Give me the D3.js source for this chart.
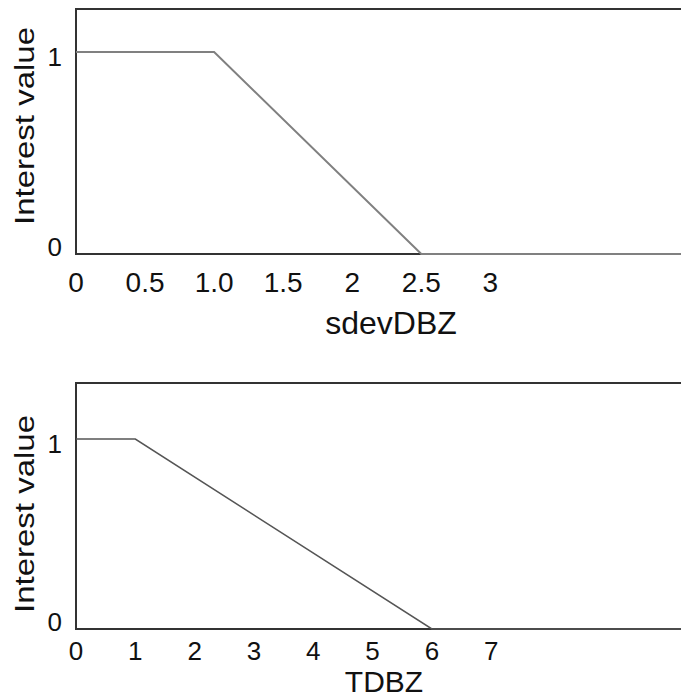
<!DOCTYPE html>
<html>
<head>
<meta charset="utf-8">
<script src="https://cdn.jsdelivr.net/npm/d3@7"></script>
<style>
  html, body { margin: 0; padding: 0; background: #fff; }
  svg { display: block; font-family: Arial, "Liberation Sans", sans-serif; }
</style>
</head>
<body>
<svg id="chart" width="681" height="700"></svg>
<script>
// Membership (interest) functions for two radar fields
const sdevX = [0, 1.0, 2.5, 4.38];
const sdevY = [1, 1, 0, 0];
const sdevTickValues = [0, 0.5, 1.0, 1.5, 2, 2.5, 3];
const sdevTickLabels = ["0", "0.5", "1.0", "1.5", "2", "2.5", "3"];

const tdbzX = [0, 1, 6, 10.2];
const tdbzY = [1, 1, 0, 0];
const tdbzTickValues = [0, 1, 2, 3, 4, 5, 6, 7];
const tdbzTickLabels = ["0", "1", "2", "3", "4", "5", "6", "7"];

const yTickValues = [0, 1];
const yTickLabels = ["0", "1"];

const svg = d3.select("#chart");

function panel(cfg) {
  const x = d3.scaleLinear().domain(cfg.xDomain).range([76, 681]);
  const y = d3.scaleLinear().domain(cfg.yDomain).range([cfg.bottom, cfg.top]);
  const g = svg.append("g");

  // frame: left, top and bottom edges (open to the right)
  g.append("path")
    .attr("d", `M${x(cfg.xDomain[1]) + 10},${y(cfg.yDomain[1])} H${x(0)} V${y(0)} H${x(cfg.xDomain[1]) + 10}`)
    .attr("fill", "none")
    .attr("stroke", "#333")
    .attr("stroke-width", 2);

  // interest curve
  const pts = cfg.xs.map((v, i) => [v, cfg.ys[i]]);
  g.append("path")
    .datum(pts)
    .attr("d", d3.line().x(d => x(d[0])).y(d => y(d[1])))
    .attr("fill", "none")
    .attr("stroke", cfg.lineColor)
    .attr("stroke-width", cfg.lineWidth);

  // x tick labels
  g.selectAll(".xt")
    .data(cfg.xTicks)
    .join("text")
    .attr("x", (d) => x(d))
    .attr("y", y(0) + cfg.xTickDy)
    .attr("text-anchor", "middle")
    .attr("font-size", cfg.xTickSize)
    .attr("fill", "#111")
    .text((d, i) => cfg.xLabels[i]);

  // y tick labels, nudged toward the inside of the value range
  g.selectAll(".yt")
    .data(yTickValues)
    .join("text")
    .attr("x", 62)
    .attr("y", d => y(d) + (d === 0 ? -7 : 5))
    .attr("dominant-baseline", "central")
    .attr("text-anchor", "end")
    .attr("font-size", 26)
    .attr("fill", "#111")
    .text((d, i) => yTickLabels[i]);

  // axis titles
  g.append("text")
    .attr("x", cfg.titleX)
    .attr("y", cfg.titleY)
    .attr("text-anchor", "middle")
    .attr("font-size", cfg.titleSize)
    .attr("fill", "#111")
    .text(cfg.title);

  g.append("text")
    .attr("transform", `translate(34,${cfg.yTitleMid}) rotate(-90)`)
    .attr("text-anchor", "middle")
    .attr("font-size", 27)
    .attr("textLength", 198)
    .attr("lengthAdjust", "spacingAndGlyphs")
    .attr("fill", "#111")
    .text("Interest value");
}

panel({
  xDomain: [0, 4.38], yDomain: [0, 1.213], top: 9, bottom: 254,
  xs: sdevX, ys: sdevY, xTicks: sdevTickValues, xLabels: sdevTickLabels,
  xTickDy: 38, xTickSize: 28, lineColor: "#808080", lineWidth: 2,
  title: "sdevDBZ", titleSize: 32, titleX: 391, titleY: 334, yTitleMid: 126
});

panel({
  xDomain: [0, 10.2], yDomain: [0, 1.295], top: 383, bottom: 629,
  xs: tdbzX, ys: tdbzY, xTicks: tdbzTickValues, xLabels: tdbzTickLabels,
  xTickDy: 31, xTickSize: 26, lineColor: "#555", lineWidth: 1.5,
  title: "TDBZ", titleSize: 30, titleX: 384, titleY: 692, yTitleMid: 514
});
</script>
</body>
</html>
